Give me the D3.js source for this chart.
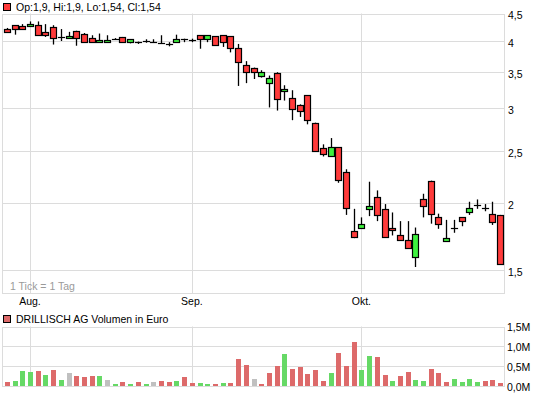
<!DOCTYPE html>
<html>
<head>
<meta charset="utf-8">
<script src="https://cdn.jsdelivr.net/npm/d3@7"></script>
<style>
  body { margin: 0; background: #fff; }
  svg { display: block; font-family: "Liberation Sans", Arial, sans-serif; }
</style>
</head>
<body>
<svg id="chart" width="545" height="397"></svg>
<script>
// ----------------------
// data
// ----------------------
const opens  = [4.21,4.28,4.26,4.26,4.28,4.16,4.24,4.07,4.05,4.18,4.13,4.05,3.99,3.99,4.03,4.07,3.99,3.98,4.00,3.99,3.97,3.95,3.99,4.04,4.02,4.10,4.03,4.08,4.10,4.08,
                3.88,3.61,3.57,3.45,3.34,3.49,3.23,3.13,3.04,3.17,2.82,2.53,2.45,2.54,2.28,1.77,1.80,1.95,2.05,1.95,1.80,1.74,1.71,1.59,2.03,2.20,1.88,1.70,1.80,1.88,
                1.92,1.98,1.96,1.91,1.90];
const highs  = [4.23,4.28,4.30,4.35,4.35,4.30,4.28,4.21,4.16,4.18,4.14,4.10,4.13,4.10,4.05,4.07,4.03,3.99,4.03,4.03,4.10,3.98,4.11,4.04,4.04,4.10,4.10,4.08,4.10,4.08,
                3.95,3.67,3.57,3.53,3.45,3.50,3.31,3.24,3.05,3.17,2.82,2.57,2.64,2.54,2.31,1.95,1.88,2.19,2.11,1.99,1.92,1.85,1.85,1.80,2.08,2.20,1.91,1.86,1.86,1.88,
                2.01,2.03,1.99,2.01,1.90];
const lows   = [4.15,4.11,4.21,4.26,4.09,4.07,3.94,4.00,4.05,3.92,3.99,3.97,3.97,3.97,4.03,3.98,3.96,3.95,3.97,3.97,3.96,3.91,3.97,3.98,3.98,3.87,3.98,3.93,3.90,3.81,
                3.30,3.34,3.40,3.42,3.01,2.97,3.10,2.85,2.89,2.80,2.50,2.44,2.45,2.18,1.90,1.72,1.80,1.89,1.85,1.73,1.74,1.70,1.65,1.52,1.88,1.83,1.79,1.70,1.76,1.81,
                1.90,1.95,1.93,1.82,1.54];
const closes = [4.16,4.21,4.22,4.30,4.11,4.11,4.06,4.07,4.09,4.05,3.99,3.99,4.02,4.02,4.03,3.98,4.03,3.98,4.00,3.99,3.97,3.95,4.04,4.04,4.02,4.03,4.10,3.93,3.99,3.89,
                3.65,3.50,3.50,3.50,3.41,3.12,3.26,2.99,2.97,2.85,2.50,2.47,2.54,2.21,1.96,1.73,1.83,1.97,1.90,1.73,1.78,1.71,1.65,1.75,1.97,1.91,1.83,1.72,1.80,1.85,
                1.96,1.98,1.96,1.84,1.54];

// volume in million euro, and colour: u = up, d = down, f = unchanged
const volumes = [0.11,0.13,0.38,0.36,0.38,0.28,0.41,0.15,0.33,0.25,0.23,0.25,0.25,0.15,0.05,0.10,0.05,0.10,0.05,0.10,0.13,0.10,0.13,0.23,0.08,0.08,0.05,0.05,0.08,0.08,
                 0.69,0.53,0.18,0.05,0.33,0.51,0.81,0.43,0.48,0.30,0.40,0.13,0.33,0.84,0.51,1.12,0.40,0.76,0.74,0.28,0.13,0.25,0.36,0.15,0.13,0.43,0.33,0.10,0.18,0.10,
                 0.18,0.10,0.13,0.15,0.08];
const volDir = ["d","u","u","u","d","u","d","u","f","d","d","d","u","f","u","d","u","d","u","f",
                "d","d","u","d","d","u","u","d","u","d","d","d","f","d","d","d","u","d","d","d",
                "d","d","u","d","d","d","u","u","d","d","u","d","d","u","u","d","d","d","u","u",
                "u","u","d","d","d"];

// month ticks (index of first trading day) and labels
const monthIdx = [3, 24, 46];
const monthLabels = ["Aug.", "Sep.", "Okt."];

const priceTicks = [1.5, 2, 2.5, 3, 3.5, 4, 4.5];
const priceTickLabels = ["1,5", "2", "2,5", "3", "3,5", "4", "4,5"];
const volTicks = [0, 0.5, 1.0, 1.5];
const volTickLabels = ["0,0M", "0,5M", "1,0M", "1,5M"];

const legendText = "Op:1,9, Hi:1,9, Lo:1,54, Cl:1,54";
const volLegendText = "DRILLISCH AG Volumen in Euro";

// ----------------------
// layout
// ----------------------
const svg = d3.select("#chart");
const left = 3, right = 504;
const mainTop = 13.5, mainBottom = 293;
const volTop = 326.5, volBottom = 386;
const gridCol = "#dcdcdc";
const upCol = "#3ef03e", downCol = "#ff3b3b";
const volCols = { u: "#66d966", d: "#dd6a6a", f: "#c0c0c0" };

const x = d3.scaleBand().domain(d3.range(opens.length)).range([left, right]).padding(0);
const cx = i => Math.round(x(i) + x.bandwidth() / 2);

const y = d3.scaleLog().domain([1.36, 4.5]).range([mainBottom, mainTop]);
const yVol = d3.scaleLinear().domain([0, 1.5]).range([volBottom, volTop]);

// ----------------------
// grids + frames
// ----------------------
function frame(top, bottom, ticks, scale) {
  const g = svg.append("g");
  g.selectAll("line.h").data(ticks).enter().append("line")
    .attr("x1", left).attr("x2", right)
    .attr("y1", d => Math.round(scale(d)) + 0.5).attr("y2", d => Math.round(scale(d)) + 0.5)
    .attr("stroke", gridCol);
  g.selectAll("line.v").data(monthIdx).enter().append("line")
    .attr("x1", d => cx(d) + 0.5).attr("x2", d => cx(d) + 0.5)
    .attr("y1", top).attr("y2", bottom)
    .attr("stroke", gridCol);
  g.append("rect")
    .attr("x", left - 0.5).attr("y", Math.round(top) + 0.5)
    .attr("width", right - left + 1).attr("height", Math.round(bottom) - Math.round(top))
    .attr("fill", "none").attr("stroke", gridCol);
}
frame(mainTop, mainBottom, priceTicks, y);
frame(volTop, volBottom, volTicks, yVol);

// ----------------------
// axes
// ----------------------
const yAxisG = svg.append("g")
  .attr("transform", `translate(${right + 1},2)`)
  .call(d3.axisRight(y).tickValues(priceTicks).tickSize(0).tickPadding(3)
    .tickFormat((d, i) => priceTickLabels[i]));
yAxisG.select(".domain").remove();

const volAxisG = svg.append("g")
  .attr("transform", `translate(${right},1)`)
  .call(d3.axisRight(yVol).tickValues(volTicks).tickSize(0).tickPadding(3)
    .tickFormat((d, i) => volTickLabels[i]));
volAxisG.select(".domain").remove();

const xAxisG = svg.append("g")
  .attr("transform", `translate(0,${mainBottom + 1})`)
  .call(d3.axisBottom(x).tickValues(monthIdx).tickSize(0).tickPadding(4)
    .tickFormat((d, i) => monthLabels[i]));
xAxisG.select(".domain").remove();

svg.selectAll(".tick text")
  .attr("font-family", "Liberation Sans, Arial, sans-serif")
  .attr("font-size", 10.5)
  .attr("fill", "#000");

// ----------------------
// legends
// ----------------------
svg.append("rect").attr("x", 3.5).attr("y", 3.5).attr("width", 7).attr("height", 7)
  .attr("fill", downCol).attr("stroke", "#000");
svg.append("text").attr("x", 16).attr("y", 10.5)
  .attr("font-size", 10.5).text(legendText);

svg.append("rect").attr("x", 3.5).attr("y", 315.5).attr("width", 7).attr("height", 7)
  .attr("fill", volCols.d).attr("stroke", "#000");
svg.append("text").attr("x", 16).attr("y", 323)
  .attr("font-size", 10.5).text(volLegendText);

svg.append("text").attr("x", 10).attr("y", 290)
  .attr("font-size", 10.5).attr("fill", "#9a9a9a").text("1 Tick = 1 Tag");

// ----------------------
// volume bars
// ----------------------
svg.append("g").selectAll("rect").data(volumes).enter().append("rect")
  .attr("x", (d, i) => cx(i) - 2)
  .attr("y", d => Math.round(yVol(d)))
  .attr("width", 5)
  .attr("height", d => volBottom - Math.round(yVol(d)))
  .attr("fill", (d, i) => volCols[volDir[i]]);

// ----------------------
// candles
// ----------------------
const candles = svg.append("g").selectAll("g").data(opens).enter().append("g");

candles.append("line")
  .attr("x1", (d, i) => cx(i) + 0.5).attr("x2", (d, i) => cx(i) + 0.5)
  .attr("y1", (d, i) => y(highs[i])).attr("y2", (d, i) => y(lows[i]))
  .attr("stroke", "#000").attr("stroke-width", 1.3);

candles.append("rect")
  .attr("x", (d, i) => cx(i) - 2.5)
  .attr("y", (d, i) => Math.round(y(Math.max(opens[i], closes[i]))) + 0.5)
  .attr("width", 6)
  .attr("height", (d, i) => Math.max(0.01,
    Math.round(y(Math.min(opens[i], closes[i]))) - Math.round(y(Math.max(opens[i], closes[i])))))
  .attr("fill", (d, i) => closes[i] > opens[i] ? upCol : closes[i] < opens[i] ? downCol : "#000")
  .attr("stroke", "#000")
  .attr("stroke-width", 1.2);
</script>
</body>
</html>
